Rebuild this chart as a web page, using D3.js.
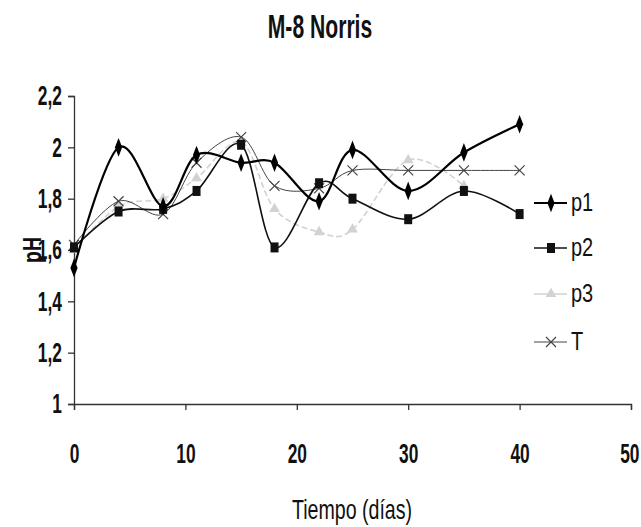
<!DOCTYPE html>
<html>
<head>
<meta charset="utf-8">
<script src="https://cdn.jsdelivr.net/npm/d3@7"></script>
<style>
  body { margin: 0; background: #fff; }
  text { font-family: "Liberation Sans", Arial, sans-serif; fill: #111; }
</style>
</head>
<body>
<div id="chart"></div>
<script>
// data
const days = [0, 4, 8, 11, 15, 18, 22, 25, 30, 35, 40];
const p1 = [1.53, 2.0, 1.77, 1.97, 1.94, 1.94, 1.79, 1.99, 1.83, 1.98, 2.09];
const p2 = [1.61, 1.75, 1.76, 1.83, 2.01, 1.61, 1.86, 1.80, 1.72, 1.83, 1.74];
const p3 = [1.60, 1.77, 1.80, 1.88, 2.02, 1.76, 1.67, 1.68, 1.95, 1.85, null];
const pT = [1.62, 1.79, 1.74, 1.94, 2.04, 1.85, 1.84, 1.91, 1.91, 1.91, 1.91];
const xTicks = [0, 10, 20, 30, 40, 50];
const yTicks = [1, 1.2, 1.4, 1.6, 1.8, 2, 2.2];

const W = 641, H = 527;

const svg = d3.select('#chart').append('svg')
  .attr('width', W)
  .attr('height', H);

const x = d3.scaleLinear().domain([0, 50]).range([74, 631]);
const y = d3.scaleLinear().domain([1, 2.2]).range([404, 96]);

const fmt = d => String(d).replace('.', ',');

// squeeze text horizontally, the original uses a narrow font
function condense(sel, factor) {
  sel.each(function() {
    const w = this.getComputedTextLength();
    d3.select(this).attr('textLength', w * factor).attr('lengthAdjust', 'spacingAndGlyphs');
  });
}

// title
svg.append('text')
  .attr('x', 320).attr('y', 38)
  .attr('text-anchor', 'middle')
  .style('font-size', '33px').style('font-weight', 'bold')
  .text('M-8 Norris')
  .call(condense, 0.64);

// axes
const yAxis = svg.append('g')
  .attr('transform', `translate(${x(0)},0)`)
  .call(d3.axisLeft(y).tickValues(yTicks).tickFormat(fmt).tickSize(6).tickPadding(6));
const xAxis = svg.append('g')
  .attr('transform', `translate(0,${y(1)})`)
  .call(d3.axisBottom(x).tickValues(xTicks).tickSize(6));
[yAxis, xAxis].forEach(g => {
  g.select('.domain').attr('stroke', '#333').attr('stroke-width', 1.3);
  g.selectAll('.tick line').attr('stroke', '#333').attr('stroke-width', 1.3);
  g.selectAll('.tick text')
    .style('font-size', '28px')
    .style('font-family', '"Liberation Sans", Arial, sans-serif')
    .style('font-weight', 'bold')
    .attr('fill', '#111')
    .call(condense, 0.62);
});
xAxis.selectAll('.tick text').attr('y', 59).attr('dy', 0);
// last label sits on the page edge: anchor it by its right end
xAxis.selectAll('.tick text').filter(d => d === 50)
  .attr('text-anchor', 'end').attr('x', 8);

// axis titles
svg.append('text')
  .attr('transform', 'translate(41,250) rotate(-90)')
  .attr('text-anchor', 'middle')
  .style('font-size', '25px').style('font-weight', 'bold')
  .text('pH')
  .call(condense, 0.78);
svg.append('text')
  .attr('x', 352).attr('y', 519)
  .attr('text-anchor', 'middle')
  .style('font-size', '28px')
  .text('Tiempo (días)')
  .call(condense, 0.7);

// series
const series = [
  {name: 'p1', values: p1, color: '#000', width: 2.2, marker: 'diamond', dash: null},
  {name: 'p2', values: p2, color: '#111', width: 1.6, marker: 'square', dash: null},
  {name: 'p3', values: p3, color: '#d2d2d2', width: 1.6, marker: 'triangle', dash: '6,3'},
  {name: 'T', values: pT, color: '#444', width: 1, marker: 'cross', dash: null}
];

const line = d3.line()
  .defined(d => d[1] != null)
  .x(d => x(d[0]))
  .y(d => y(d[1]))
  .curve(d3.curveCardinal.tension(0));

function drawMarker(g, type, cx, cy, color) {
  if (type === 'diamond') {
    g.append('path').attr('d', d3.symbol(d3.symbolDiamond, 70)())
      .attr('transform', `translate(${cx},${cy}) scale(0.8,1.2)`).attr('fill', color);
  } else if (type === 'square') {
    g.append('rect').attr('x', cx - 4).attr('y', cy - 5).attr('width', 8).attr('height', 10).attr('fill', color);
  } else if (type === 'triangle') {
    g.append('path').attr('d', d3.symbol(d3.symbolTriangle, 50)())
      .attr('transform', `translate(${cx},${cy})`).attr('fill', color);
  } else {
    g.append('path').attr('d', `M${cx - 5},${cy - 5}L${cx + 5},${cy + 5}M${cx - 5},${cy + 5}L${cx + 5},${cy - 5}`)
      .attr('stroke', color).attr('stroke-width', 1.2);
  }
}

// lighter series first so the black ones stay on top
[series[2], series[3], series[1], series[0]].forEach(s => {
  const pts = days.map((d, i) => [d, s.values[i]]);
  const g = svg.append('g');
  g.append('path')
    .datum(pts)
    .attr('fill', 'none')
    .attr('stroke', s.color)
    .attr('stroke-width', s.width)
    .attr('stroke-dasharray', s.dash)
    .attr('d', line);
  pts.filter(p => p[1] != null).forEach(p => drawMarker(g, s.marker, x(p[0]), y(p[1]), s.color));
});

// legend
const legendY = [203, 248, 294, 342];
series.forEach((s, i) => {
  const g = svg.append('g');
  g.append('line')
    .attr('x1', 534).attr('x2', 567)
    .attr('y1', legendY[i]).attr('y2', legendY[i])
    .attr('stroke', s.color).attr('stroke-width', s.width);
  drawMarker(g, s.marker, 551, legendY[i], s.color);
  g.append('text')
    .attr('x', 571).attr('y', legendY[i] + 8)
    .style('font-size', '25px')
    .text(s.name)
    .call(condense, 0.8);
});
</script>
</body>
</html>
